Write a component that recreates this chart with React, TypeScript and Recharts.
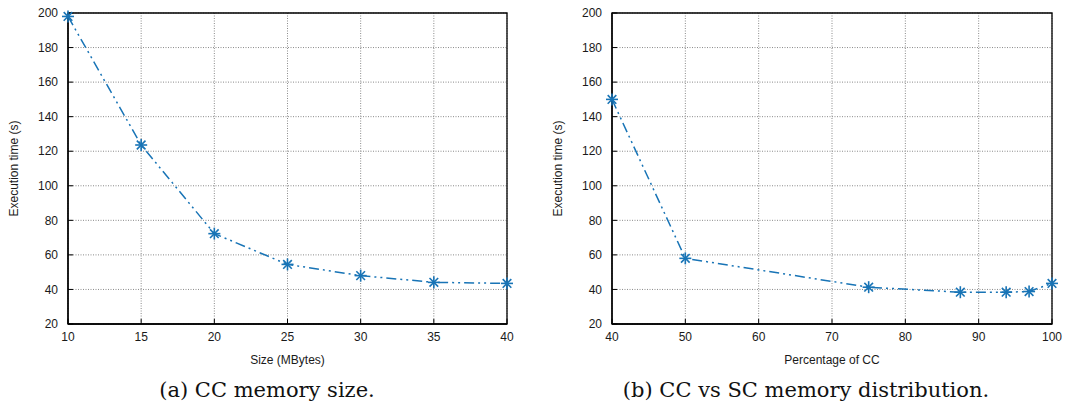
import { LineChart, Line, XAxis, YAxis, CartesianGrid, ReferenceArea } from 'recharts'

const sizeMB = [10, 15, 20, 25, 30, 35, 40]
const sizeTime = [198, 123.6, 72.3, 54.5, 48, 44.1, 43.5]

const pctCC = [40, 50, 75, 87.5, 93.75, 96.875, 100]
const pctTime = [150, 58, 41.3, 38.4, 38.4, 38.8, 43.5]

const sizeTicks = [10, 15, 20, 25, 30, 35, 40]
const pctTicks = [40, 50, 60, 70, 80, 90, 100]
const timeTicks = [20, 40, 60, 80, 100, 120, 140, 160, 180, 200]

const sizeData = sizeMB.map((x, i) => ({ x, t: sizeTime[i] }))
const pctData = pctCC.map((x, i) => ({ x, t: pctTime[i] }))

const BLUE = '#1874b6'
const SANS = '"Liberation Sans", Arial, sans-serif'
const tickStyle = { fontSize: 12, fill: '#1a1a1a', fontFamily: SANS }
const frame = { stroke: '#000', strokeWidth: 1.3 }

// gnuplot-style asterisk marker (+ and x overlaid)
const Asterisk = ({ cx, cy }: any) => {
  if (cx == null || cy == null) return null
  const r = 6
  const d = r * 0.72
  return (
    <g stroke={BLUE} strokeWidth={1.6}>
      <line x1={cx - r} y1={cy} x2={cx + r} y2={cy} />
      <line x1={cx} y1={cy - r} x2={cx} y2={cy + r} />
      <line x1={cx - d} y1={cy - d} x2={cx + d} y2={cy + d} />
      <line x1={cx - d} y1={cy + d} x2={cx + d} y2={cy - d} />
    </g>
  )
}

const YLabel = (dx: number) => ({ viewBox }: any) => (
  <text
    x={viewBox.x + dx}
    y={viewBox.y + viewBox.height / 2}
    transform={`rotate(-90 ${viewBox.x + dx} ${viewBox.y + viewBox.height / 2})`}
    textAnchor='middle'
    dominantBaseline='central'
    fontSize={12}
    fontFamily={SANS}
    fill='#1a1a1a'
  >
    Execution time (s)
  </text>
)

function Panel({ data, xTicks, domain, xLabel, yAxisW, right, yLabelX }: any) {
  return (
    <LineChart
      width={533}
      height={372}
      data={data}
      margin={{ top: 12, right: right - 1, left: 0, bottom: 8 }}
    >
      <CartesianGrid stroke='#8a8a8a' strokeDasharray='1 1.5' />
      <XAxis
        dataKey='x'
        type='number'
        domain={domain}
        ticks={xTicks}
        interval={0}
        height={40}
        tick={tickStyle}
        axisLine={frame}
        tickLine={{ stroke: '#000' }}
        tickSize={-5}
        tickMargin={13}
        label={{ value: xLabel, position: 'insideBottom', offset: 0, style: { fontSize: 12, fontFamily: SANS, fill: '#1a1a1a' } }}
      />
      {/* mirrored inward ticks on top and right, gnuplot style */}
      <XAxis
        xAxisId='top'
        orientation='top'
        dataKey='x'
        type='number'
        domain={domain}
        ticks={xTicks}
        interval={0}
        height={1}
        tick={false}
        axisLine={false}
        tickLine={{ stroke: '#000' }}
        tickSize={-5}
      />
      <YAxis
        type='number'
        domain={[20, 200]}
        ticks={timeTicks}
        interval={0}
        width={yAxisW}
        tick={tickStyle}
        axisLine={frame}
        tickLine={{ stroke: '#000' }}
        tickSize={-5}
        tickMargin={15}
        label={{ content: YLabel(yLabelX) }}
      />
      <YAxis
        yAxisId='r'
        orientation='right'
        type='number'
        domain={[20, 200]}
        ticks={timeTicks}
        interval={0}
        width={1}
        tick={false}
        axisLine={false}
        tickLine={{ stroke: '#000' }}
        tickSize={-5}
      />
      <ReferenceArea
        x1={domain[0]}
        x2={domain[1]}
        y1={20}
        y2={200}
        fill='none'
        fillOpacity={0}
        stroke='#000'
        strokeWidth={1.3}
      />
      <Line
        type='linear'
        dataKey='t'
        stroke={BLUE}
        strokeWidth={1.5}
        strokeDasharray='10 4 2 4 2 4'
        dot={<Asterisk />}
        isAnimationActive={false}
      />
    </LineChart>
  )
}

const captionStyle: any = {
  position: 'absolute',
  top: 377,
  fontFamily: '"DejaVu Serif", "Liberation Serif", serif',
  fontSize: 21,
  color: '#111',
  textAlign: 'center',
  lineHeight: '26px',
  whiteSpace: 'nowrap',
}

export default function App() {
  return (
    <div style={{ position: 'fixed', left: 0, top: 0, width: 1066, height: 404, background: '#fff', overflow: 'hidden' }}>
      <div style={{ position: 'absolute', left: 0, top: 0 }}>
        <Panel data={sizeData} xTicks={sizeTicks} domain={[10, 40]} xLabel='Size (MBytes)' yAxisW={68} right={26} yLabelX={14} />
      </div>
      <div style={{ position: 'absolute', left: 533, top: 0 }}>
        <Panel data={pctData} xTicks={pctTicks} domain={[40, 100]} xLabel='Percentage of CC' yAxisW={79} right={14} yLabelX={25} />
      </div>
      <div style={{ ...captionStyle, left: 67, width: 400 }}>(a) CC memory size.</div>
      <div style={{ ...captionStyle, left: 556, width: 500 }}>(b) CC vs SC memory distribution.</div>
    </div>
  )
}
